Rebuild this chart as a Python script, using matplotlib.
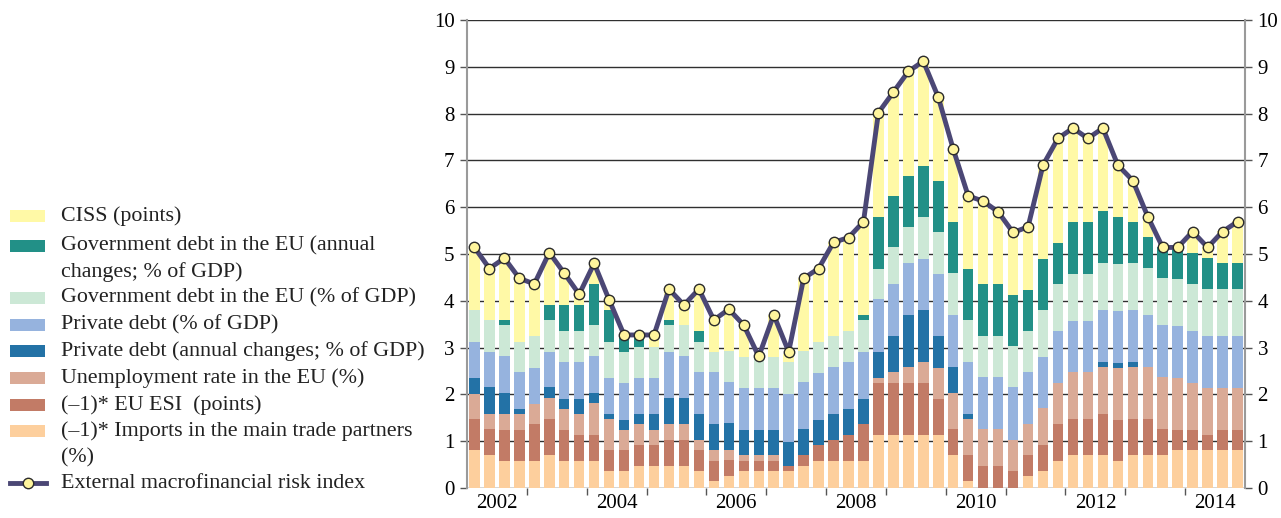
import matplotlib
matplotlib.use("Agg")
import matplotlib.pyplot as plt
from matplotlib.patches import Rectangle
from matplotlib.lines import Line2D
import numpy as np

plt.rcParams['font.family'] = ['Liberation Serif', 'DejaVu Serif']

years = ['2002', '2004', '2006', '2008', '2010', '2012', '2014']

imports = [.81, .71, .58, .58, .58, .71, .58, .58, .58,
           .37, .37, .48, .48, .48, .48, .37, .15,
           .26, .37, .37, .37, .37, .48, .58, .58, .58,
           .58, 1.13, 1.13, 1.13, 1.13, 1.13, .71, .15, 0,
           0, 0, .26, .37, .58, .71, .71, .71,
           .58, .71, .71, .71, .81, .81, .81, .81, .81]
esi = [.66, .55, .67, .67, .78, .76, .67, .55, .55,
       .44, .44, .44, .44, .55, .55, .44, .43,
       .33, .21, .21, .21, .11, .23, .33, .44, .55,
       .78, 1.12, 1.12, 1.12, 1.12, .78, .55, .56, .48,
       .48, .37, .45, .55, .78, .76, .76, .88,
       .88, .76, .76, .55, .44, .44, .32, .44, .44]
unemp = [.54, .33, .33, .33, .44, .45, .44, .45, .68,
         .66, .44, .45, .33, .34, .34, .21, .23,
         .23, .12, .12, .12, 0, 0, 0, 0, 0,
         0, .11, .22, .33, .44, .66, .78, .76, .78,
         .78, .66, .66, .78, .88, 1.00, 1.00, 1.00,
         1.11, 1.11, 1.11, 1.11, 1.11, 1.00, 1.01, .89, .89]
priv_chg = [.34, .56, .46, .11, 0, .23, .22, .33, .23,
            .11, .21, .21, .33, .55, .55, .56, .56,
            .56, .55, .55, .55, .51, .55, .55, .56, .56,
            .55, .54, .78, 1.12, 1.11, .67, .54, .11, 0,
            0, 0, 0, 0, 0, 0, 0, .11,
            .11, .11, 0, 0, 0, 0, 0, 0, 0]
priv_lvl = [.78, .76, .77, .78, .77, .76, .78, .78, .77,
            .77, .78, .77, .77, .99, .89, .89, 1.10,
            .88, .89, .89, .89, 1.01, 1.00, 1.00, 1.00, 1.00,
            .99, 1.13, 1.11, 1.10, 1.10, 1.34, 1.12, 1.11, 1.11,
            1.11, 1.12, 1.10, 1.10, 1.11, 1.10, 1.10, 1.11,
            1.11, 1.11, 1.12, 1.11, 1.11, 1.11, 1.11, 1.11, 1.11]
gov_lvl = [.67, .67, .67, .66, .67, .67, .67, .67, .67,
           .78, .66, .67, .67, .57, .67, .66, .43,
           .66, .66, .66, .66, .70, .66, .66, .67, .67,
           .68, .66, .78, .78, .89, .88, .89, .90, .88,
           .88, .88, .89, 1.00, 1.00, 1.01, 1.01, 1.00,
           1.00, 1.00, 1.00, 1.00, 1.00, 1.00, 1.00, 1.00, 1.00]
gov_chg = [0, 0, .10, 0, 0, .33, .55, .55, .88,
           .67, .33, .18, 0, .10, 0, .23, 0,
           0, 0, 0, 0, 0, 0, 0, 0, 0,
           .11, 1.10, 1.10, 1.09, 1.10, 1.10, 1.10, 1.10, 1.11,
           1.11, 1.10, .88, 1.10, .89, 1.10, 1.10, 1.10,
           1.00, .89, .66, .66, .66, .67, .66, .56, .56]
ciss = [1.32, 1.12, 1.33, 1.35, 1.11, 1.12, .68, .23, .44,
        .21, 0, .07, .25, .67, .43, .88, .68,
        .90, .68, 0, .89, .17, 1.57, 1.56, 2.00, 1.99,
        1.99, 2.22, 2.22, 2.22, 2.22, 1.78, 1.55, 1.55, 1.77,
        1.55, 1.34, 1.34, 1.99, 2.22, 1.99, 1.78, 1.78,
        1.10, .88, .45, 0, 0, .45, .23, .68, .89]
risk_index = [5.14, 4.69, 4.91, 4.48, 4.36, 5.03, 4.59, 4.14, 4.80,
              4.02, 3.27, 3.27, 3.27, 4.25, 3.91, 4.25, 3.59,
              3.82, 3.48, 2.81, 3.70, 2.91, 4.48, 4.69, 5.25, 5.35,
              5.69, 8.02, 8.46, 8.90, 9.12, 8.35, 7.24, 6.24, 6.13,
              5.90, 5.46, 5.58, 6.90, 7.47, 7.69, 7.47, 7.69,
              6.90, 6.57, 5.80, 5.14, 5.14, 5.48, 5.14, 5.48, 5.69]

series = [
    (imports, '#FDCF9D', '(–1)* Imports in the main trade partners\n(%)'),
    (esi, '#C27B66', '(–1)* EU ESI  (points)'),
    (unemp, '#DAAA96', 'Unemployment rate in the EU (%)'),
    (priv_chg, '#2372A6', 'Private debt (annual changes; % of GDP)'),
    (priv_lvl, '#96B3DE', 'Private debt (% of GDP)'),
    (gov_lvl, '#CCE8D6', 'Government debt in the EU (% of GDP)'),
    (gov_chg, '#229087', 'Government debt in the EU (annual\nchanges; % of GDP)'),
    (ciss, '#FFF9A6', 'CISS (points)'),
]
line_color = '#4B4775'
marker_fc = '#FFF59D'

W, H = 1281, 518
fig = plt.figure(figsize=(W / 100, H / 100), dpi=100)
ax = fig.add_axes([467 / W, 1 - 488 / H, (1245 - 467) / W, (488 - 20) / H])

n = len(ciss)
x = np.arange(n)
bottom = np.zeros(n)
for vals, col, lab in series:
    v = np.array(vals)
    ax.bar(x, v, bottom=bottom, width=0.7, color=col, linewidth=0, zorder=2)
    bottom += v

ax.plot(x, risk_index, color=line_color, lw=3.5, zorder=4,
        marker='o', markersize=7.5, markerfacecolor=marker_fc,
        markeredgecolor='#2b2b2b', markeredgewidth=1.0)

ax.set_xlim(-0.5, n - 0.5)
ax.set_ylim(0, 10)
ax.set_yticks(range(0, 11))
for yv in range(0, 11):
    ax.axhline(yv, color='#303030', lw=1.0, zorder=1)

ax.tick_params(axis='y', which='both', left=True, right=True, labelleft=True,
               labelright=True, direction='out', length=5, width=1,
               color='#555555', labelsize=15, pad=4)

# year boundary ticks
bounds = np.arange(3.5, n - 0.5, 4)
ax.set_xticks(bounds)
ax.set_xticklabels([])
ax.tick_params(axis='x', direction='out', length=5, width=1, color='#555555')
ax.set_xticks([1.5 + 8 * k for k in range(len(years))], minor=True)
ax.set_xticklabels(years, minor=True)
ax.tick_params(axis='x', which='minor', length=0, labelsize=15, pad=4)

for s in ['left', 'right']:
    ax.spines[s].set_color('#9a9a9a')
    ax.spines[s].set_linewidth(1.5)
ax.spines['top'].set_visible(False)
ax.spines['bottom'].set_visible(False)

# legend drawn manually
def fx(px):
    return px / W

def fy(py):
    return 1 - py / H

legend_rows = [
    ('#FFF9A6', ['CISS (points)'], 216),
    ('#229087', ['Government debt in the EU (annual', 'changes; % of GDP)'], 246),
    ('#CCE8D6', ['Government debt in the EU (% of GDP)'], 298),
    ('#96B3DE', ['Private debt (% of GDP)'], 325),
    ('#2372A6', ['Private debt (annual changes; % of GDP)'], 351),
    ('#DAAA96', ['Unemployment rate in the EU (%)'], 378),
    ('#C27B66', ['(–1)* EU ESI  (points)'], 405),
    ('#FDCF9D', ['(–1)* Imports in the main trade partners', '(%)'], 431),
]
for col, lines, yc in legend_rows:
    fig.add_artist(Rectangle((fx(10), fy(yc + 6)), fx(35), 12 / H,
                             facecolor=col, edgecolor='none',
                             transform=fig.transFigure))
    for k, t in enumerate(lines):
        fig.text(fx(61), fy(yc + k * 26.5), t, ha='left', va='center',
                 fontsize=15.8, color='#222222')

yc = 483
fig.add_artist(Line2D([fx(10), fx(46)], [fy(yc), fy(yc)], color=line_color,
                      lw=3.5, transform=fig.transFigure))
fig.add_artist(Line2D([fx(28)], [fy(yc)], marker='o', markersize=7.5,
                      markerfacecolor=marker_fc, markeredgecolor='#2b2b2b',
                      markeredgewidth=1.0, transform=fig.transFigure))
fig.text(fx(61), fy(yc), 'External macrofinancial risk index', ha='left',
         va='center', fontsize=15.8, color='#222222')

fig.savefig('out.png', dpi=100)
